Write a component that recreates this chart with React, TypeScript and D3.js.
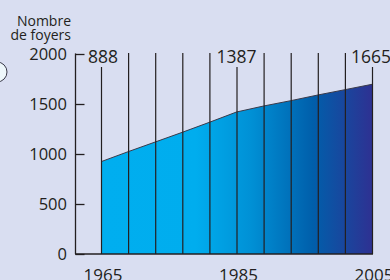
import React, { useRef, useEffect } from "react"
import * as d3 from "d3"

// years with a vertical line, every 4 years
const years = [1965, 1969, 1973, 1977, 1981, 1985, 1989, 1993, 1997, 2001, 2005]
// heights of the area as drawn (number of households)
const foyers = [923, 1023, 1120, 1217, 1317, 1420, 1480, 1533, 1590, 1643, 1697]
// values printed above the chart
const labelYears = [1965, 1985, 2005]
const labelValues = ["888", "1387", "1665"]
const yTicks = [0, 500, 1000, 1500, 2000]

const W = 390
const H = 280

const App = () => {
    const element = useRef<SVGSVGElement | null>(null)

    useEffect(() => {
        const svg = d3.select(element.current)
        svg.selectAll("*").remove()

        const font = "'Open Sans', 'Noto Sans', sans-serif"
        const ink = "#231f20"

        svg.append("rect")
            .attr("width", W).attr("height", H)
            .attr("fill", "#d9def1")

        const x = d3.scaleLinear().domain([1965, 2005]).range([101, 372])
        const y = d3.scaleLinear().domain([0, 2000]).range([254, 54])

        const defs = svg.append("defs")
        const grad = defs.append("linearGradient")
            .attr("id", "fill")
            .attr("gradientUnits", "userSpaceOnUse")
            .attr("x1", x(1965)).attr("x2", x(2005))
            .attr("y1", 0).attr("y2", 0)
        grad.append("stop").attr("offset", "0%").attr("stop-color", "#00aeef")
        grad.append("stop").attr("offset", "35%").attr("stop-color", "#00adee")
        grad.append("stop").attr("offset", "55%").attr("stop-color", "#0091d6")
        grad.append("stop").attr("offset", "78%").attr("stop-color", "#005fab")
        grad.append("stop").attr("offset", "100%").attr("stop-color", "#2e3192")

        const data = years.map((yr, i) => ({ yr, v: foyers[i] }))

        // area
        svg.append("path")
            .datum(data)
            .attr("fill", "url(#fill)")
            .attr("d", d3.area<{ yr: number, v: number }>()
                .x(d => x(d.yr))
                .y0(y(0))
                .y1(d => y(d.v)))

        svg.append("path")
            .datum(data)
            .attr("fill", "none")
            .attr("stroke", "#3a3a4a")
            .attr("stroke-width", 1)
            .attr("d", d3.line<{ yr: number, v: number }>()
                .x(d => x(d.yr))
                .y(d => y(d.v)))

        // vertical lines
        svg.append("g")
            .selectAll("line")
            .data(years)
            .enter()
            .append("line")
                .attr("x1", d => x(d) + 0.5)
                .attr("x2", d => x(d) + 0.5)
                .attr("y1", d => labelYears.includes(d) ? 67 : 53)
                .attr("y2", y(0))
                .attr("stroke", ink)
                .attr("stroke-width", 1.2)

        // y axis
        const yAxis = svg.append("g")
            .attr("transform", "translate(75.5,0)")
            .call(d3.axisRight(y).tickValues(yTicks).tickSize(9).tickFormat(() => ""))
        yAxis.select(".domain").remove()
        yAxis.selectAll(".tick line").attr("stroke", ink).attr("stroke-width", 1.3)
        svg.append("line")
            .attr("x1", 75.5).attr("x2", 75.5)
            .attr("y1", y(2000) - 0.6).attr("y2", y(0))
            .attr("stroke", ink).attr("stroke-width", 1.3)

        svg.append("g")
            .selectAll("text")
            .data(yTicks)
            .enter()
            .append("text")
                .attr("x", 67)
                .attr("y", d => y(d) + 6)
                .attr("text-anchor", "end")
                .attr("font-family", font)
                .attr("font-size", 16.5)
                .attr("fill", ink)
                .text(d => d)

        // x axis base
        svg.append("line")
            .attr("x1", 75).attr("x2", x(2005) + 1)
            .attr("y1", y(0)).attr("y2", y(0))
            .attr("stroke", ink).attr("stroke-width", 1.6)

        svg.append("g")
            .selectAll("text")
            .data(labelYears)
            .enter()
            .append("text")
                .attr("x", d => x(d) + 2)
                .attr("y", 281)
                .attr("text-anchor", "middle")
                .attr("font-family", font)
                .attr("font-size", 17)
                .attr("fill", ink)
                .text(d => d)

        // values above
        svg.append("g")
            .selectAll("text")
            .data(labelYears)
            .enter()
            .append("text")
                .attr("x", (d, i) => x(d) + [2, 0, -1][i])
                .attr("y", 63)
                .attr("text-anchor", "middle")
                .attr("font-family", font)
                .attr("font-size", 17.5)
                .attr("fill", ink)
                .text((d, i) => labelValues[i])

        // axis title
        const title = svg.append("text")
            .attr("text-anchor", "end")
            .attr("font-family", font)
            .attr("font-size", 14)
            .attr("fill", ink)
        title.append("tspan").attr("x", 71).attr("y", 26).text("Nombre")
        title.append("tspan").attr("x", 71).attr("y", 40).text("de foyers")

        // cut-off shape at the left edge
        svg.append("ellipse")
            .attr("cx", -3).attr("cy", 72)
            .attr("rx", 10).attr("ry", 10)
            .attr("fill", "#eef7fb")
            .attr("stroke", "#3a3a4a")
            .attr("stroke-width", 1)
    }, [])

    return (
        <svg ref={element} width={W} height={H}
            style={{ position: "fixed", left: 0, top: 0, display: "block" }} />
    )
}

export default App
